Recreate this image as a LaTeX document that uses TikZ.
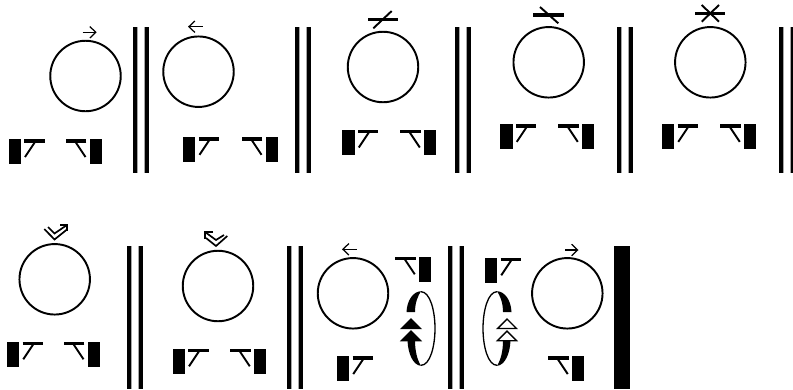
\documentclass[tikz,border=0pt]{standalone}
\usepackage{tikz}
\usetikzlibrary{arrows.meta}

\tikzset{
  ring/.style={draw, circle, line width=1.1pt, minimum size=1.41cm, inner sep=0pt},
  slab/.style={fill=black, minimum width=0.245cm, minimum height=0.5cm, inner sep=0pt},
  bar/.style={line width=2pt},
  slash/.style={line width=1.1pt},
  thin arrow/.style={line width=0.7pt, -{Straight Barb[length=0.12cm, width=0.23cm, line width=0.7pt]}},
  chevron/.style={line width=0.95pt},
  leftgate/.pic={
    \node[slab] (-slab) at (0,0) {};
    \draw[bar] (9.5,-10.75) -- (29.75,-10.75);
    \draw[slash] (20.25,-9.75) -- (10.25,5.25);
  },
  rightgate/.pic={
    \node[slab] (-slab) at (0,0) {};
    \draw[bar] (-9.5,-10.75) -- (-29.75,-10.75);
    \draw[slash] (-20.25,-9.75) -- (-10.25,5.25);
  },
  loopback/.pic={
    \draw[line width=0.75pt] (0,-36.8) .. controls (9,-36.8) and (14,-18) .. (14,0) .. controls (14,18) and (9,36.8) .. (0,36.8);
    \fill (-14.5,-16.5) .. controls (-14,-28) and (-8,-37) .. (0,-37.3) .. controls (-3,-33) and (-6,-26) .. (-6,-16.5) -- cycle;
    \fill (-13.5,12) .. controls (-13,25) and (-8,36.8) .. (0,37.3) .. controls (-4,31) and (-6,22) .. (-6,12) -- cycle;
    \draw[line width=0.8pt, fill=#1] (-19.5,0) -- (-10,-9.5) -- (-0.5,0) -- cycle;
    \draw[line width=0.8pt, fill=#1] (-19.5,12.2) -- (-10,2.7) -- (-0.5,12.2) -- cycle;
  },
}

\begin{document}
\begin{tikzpicture}[x=0.02cm, y=-0.02cm]
    \useasboundingbox (0,0) rectangle (793,389);

    % rings and gates
    \foreach \name/\rx/\ry/\lx/\ly/\gx/\gy in {
        a/85.5/76/14.75/151.75/95.75/151.75,
        b/198.5/71.7/189.25/149.5/271.75/149.5,
        c/383/67/348.5/142.25/430/142.25,
        d/548.7/62.3/506.5/136.6/588/136.6,
        e/710.3/62.3/668/136.6/750/136.6,
        f/54.7/279.3/13/354/93.75/354,
        g/218/286/178.75/361/260/361,
        h/353/293.3/343/368.8/425/269,
        i/567.3/293.3/491/270/578/368.8} {
        \node[ring] (ring\name) at (\rx,\ry) {};
        \pic (left\name) at (\lx,\ly) {leftgate};
        \pic (right\name) at (\gx,\gy) {rightgate};
    }

    % walls
    \foreach \x/\top/\bot in {133.3/27/173, 295/27/173, 455/27/173, 617/27/173, 779/27/173,
        127/246/389, 287.3/246/389, 448.3/246/389} {
        \fill (\x,\top) rectangle (\x+3.7,\bot);
        \fill (\x+11.7,\top) rectangle (\x+15.7,\bot);
        \fill[gray!70] (\x+3.7,\top) rectangle (\x+4.6,\bot);
        \fill[gray!70] (\x+10.8,\top) rectangle (\x+11.7,\bot);
    }
    \fill (614,246) rectangle (630,389);

    % marks above the rings
    \draw[thin arrow] (82.7,32.3) -- (96.7,32.3);
    \draw[thin arrow] (202.7,26.7) -- (188,26.7);
    \draw[thin arrow] (356.7,249.3) -- (342,249.3);
    \draw[thin arrow] (565,250) -- (578.5,250);

    \draw[bar] (368,19.3) -- (398.3,19.3);
    \draw[slash] (391.7,11) -- (373.3,28.3);
    \draw[bar] (533.3,15) -- (563.7,15);
    \draw[slash] (540,7) -- (558.3,23.3);
    \draw[bar] (695,13.3) -- (725,13.3);
    \draw[slash] (701.7,5) -- (719,21.7);
    \draw[slash] (719,5) -- (701.7,21.7);

    \draw[chevron] (44.3,229) -- (54.5,239.5) -- (67,229.5);
    \draw[chevron] (48,227) -- (54.5,233.5) -- (67,225);
    \draw[chevron] (60,225) -- (67,225) -- (67,231);
    \draw[chevron] (206,238) -- (216,246) -- (227.3,236);
    \draw[chevron] (205,232) -- (216,240) -- (224,235);
    \draw[chevron] (213,232) -- (205,232) -- (205,239);

    % the two loops
    \pic (loopa) at (421,328.5) {loopback=black};
    \pic[xscale=-1] (loopb) at (497,328.5) {loopback=white};
\end{tikzpicture}
\end{document}
